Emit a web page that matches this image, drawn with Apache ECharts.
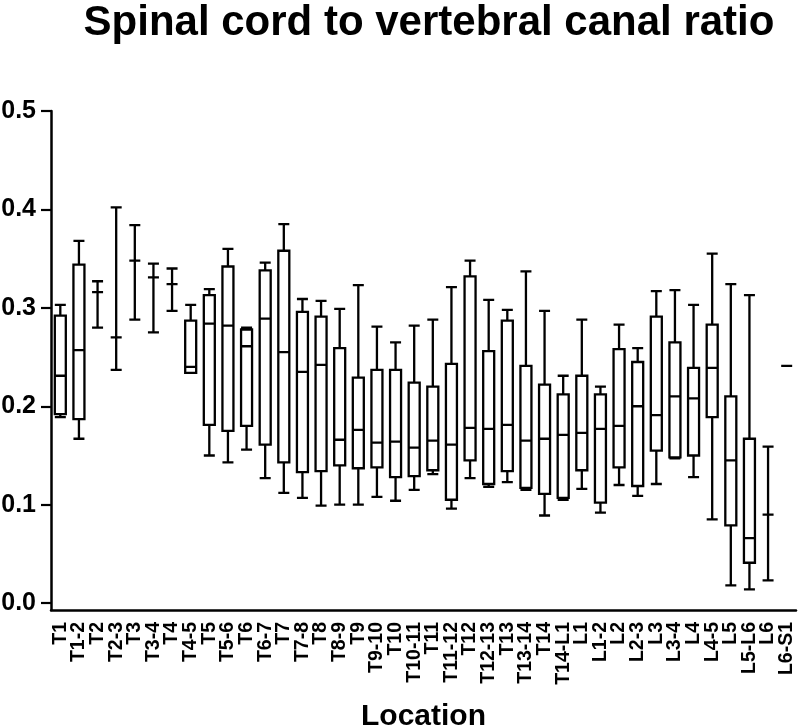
<!DOCTYPE html>
<html>
<head>
<meta charset="utf-8">
<style>
  html, body { margin: 0; padding: 0; background: #fff; }
  #chart { width: 799px; height: 728px; }
</style>
<script src="https://cdn.jsdelivr.net/npm/echarts@6/dist/echarts.min.js"></script>
</head>
<body>
<div id="chart"></div>
<script>
const categories = ['T1','T1-2','T2','T2-3','T3','T3-4','T4','T4-5','T5','T5-6','T6','T6-7','T7','T7-8','T8','T8-9','T9','T9-10','T10','T10-11','T11','T11-12','T12','T12-13','T13','T13-14','T14','T14-L1','L1','L1-2','L2','L2-3','L3','L3-4','L4','L4-5','L5','L5-L6','L6','L6-S1'];
const minValues    = [0.189,0.167,0.280,0.237,0.288,0.275,0.297,0.234,0.150,0.143,0.156,0.127,0.112,0.107,0.099,0.100,0.100,0.108,0.104,0.115,0.131,0.096,0.127,0.118,0.123,0.115,0.089,0.105,0.116,0.092,0.120,0.109,0.121,0.147,0.128,0.085,0.018,0.014,0.023,0.241];
const q1Values     = [0.192,0.187,0.316,0.270,0.348,0.331,0.324,0.234,0.181,0.175,0.180,0.161,0.143,0.133,0.134,0.140,0.137,0.138,0.128,0.129,0.135,0.105,0.145,0.121,0.134,0.117,0.111,0.107,0.135,0.102,0.138,0.119,0.155,0.148,0.150,0.189,0.079,0.041,0.090,0.241];
const medianValues = [0.231,0.257,0.316,0.270,0.348,0.331,0.324,0.240,0.284,0.282,0.261,0.289,0.255,0.235,0.242,0.166,0.176,0.163,0.164,0.158,0.165,0.161,0.178,0.177,0.181,0.165,0.167,0.171,0.173,0.177,0.180,0.200,0.191,0.210,0.208,0.239,0.145,0.066,0.090,0.241];
const q3Values     = [0.292,0.344,0.316,0.270,0.348,0.331,0.324,0.287,0.313,0.342,0.278,0.338,0.358,0.296,0.291,0.259,0.229,0.237,0.237,0.224,0.220,0.243,0.332,0.256,0.287,0.241,0.222,0.212,0.231,0.212,0.258,0.245,0.291,0.265,0.239,0.283,0.210,0.167,0.090,0.241];
const maxValues    = [0.303,0.368,0.327,0.402,0.384,0.345,0.340,0.303,0.319,0.360,0.280,0.346,0.385,0.309,0.307,0.299,0.323,0.281,0.265,0.282,0.288,0.321,0.348,0.308,0.298,0.337,0.297,0.231,0.288,0.220,0.283,0.259,0.317,0.318,0.303,0.355,0.324,0.313,0.159,0.241];
const yTickValues = [0.0, 0.1, 0.2, 0.3, 0.4, 0.5];

const boxData = categories.map((c, i) => [minValues[i], q1Values[i], medianValues[i], q3Values[i], maxValues[i]]);
const FONT = '"Liberation Sans", Arial, Helvetica, sans-serif';

const chart = echarts.init(document.getElementById('chart'), null, { renderer: 'canvas' });
chart.setOption({
  animation: false,
  backgroundColor: '#fff',
  title: {
    text: 'Spinal cord to vertebral canal ratio',
    left: 424, top: -3, textAlign: 'center',
    textStyle: { fontFamily: FONT, fontWeight: 'bold', fontSize: 42, color: '#000' }
  },
  grid: { left: 51, right: 3, top: 111, bottom: 118, containLabel: false, outerBoundsMode: 'none' },
  xAxis: {
    type: 'category',
    data: categories,
    boundaryGap: true,
    name: 'Location',
    nameLocation: 'middle',
    nameGap: 92,
    nameTextStyle: { fontFamily: FONT, fontWeight: 'bold', fontSize: 30, color: '#000' },
    axisLine: { onZero: false, lineStyle: { color: '#000', width: 2.5 } },
    axisTick: { alignWithLabel: true, length: 8, lineStyle: { color: '#000', width: 2.2 } },
    axisLabel: {
      rotate: 90, interval: 0, margin: 12,
      fontFamily: FONT, fontWeight: 'bold', fontSize: 19.5, color: '#000'
    },
    splitLine: { show: false }
  },
  yAxis: {
    type: 'value',
    min: -0.007, max: 0.5,
    axisLine: { show: true, lineStyle: { color: '#000', width: 2.5 } },
    axisTick: { show: true, length: 10, customValues: yTickValues, lineStyle: { color: '#000', width: 2.2 } },
    axisLabel: {
      customValues: yTickValues, margin: 15,
      formatter: v => v.toFixed(1),
      fontFamily: FONT, fontWeight: 'bold', fontSize: 25, color: '#000'
    },
    splitLine: { show: false }
  },
  series: [{
    type: 'boxplot',
    data: boxData,
    boxWidth: [11, 11],
    itemStyle: { color: '#fff', borderColor: '#000', borderWidth: 2.3 }
  }]
});
</script>
</body>
</html>
